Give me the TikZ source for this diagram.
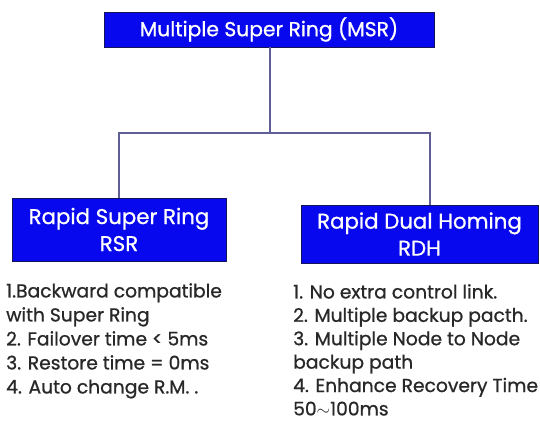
\documentclass[tikz,border=0pt]{standalone}
\usepackage{fontspec}
\setmainfont{Poppins}
\newfontfamily\medfont{Poppins}[FakeBold=0.8]
\definecolor{boxblue}{RGB}{8,8,238}
\definecolor{boxedge}{RGB}{20,20,90}
\definecolor{linecol}{RGB}{95,95,150}
\definecolor{bodytext}{RGB}{40,40,40}
\tikzset{
  bluebox/.style={draw=boxedge, line width=0.8pt, fill=boxblue, text=white, align=center, inner sep=0pt},
  bodyblock/.style={anchor=north west, inner sep=0pt, align=left, text=bodytext, font=\medfont\fontsize{18.7}{23.4}\selectfont},
  conn/.style={draw=linecol, line width=1.2pt}
}
\begin{document}
\begin{tikzpicture}[x=1pt,y=1pt]
\useasboundingbox (0,0) rectangle (540,-420);
\fill[white] (0,0) rectangle (540,-420);
\node[bluebox, minimum width=330, minimum height=35, font=\medfont\fontsize{20.3}{24}\selectfont] (msr) at (269,-29.5) {Multiple Super Ring (MSR)};
\node[bluebox, minimum width=214, minimum height=63, font=\medfont\fontsize{21.3}{27}\selectfont] (rsr) at (119,-229.5) {Rapid Super Ring\\RSR};
\node[bluebox, minimum width=237, minimum height=58, font=\medfont\fontsize{21.3}{27}\selectfont] (rdh) at (419.5,-234) {Rapid Dual Homing\\RDH};
\coordinate (j) at (270,-133);
\coordinate (rt) at (430,-205);
\draw[conn] (msr.south -| j) -- (j);
\draw[conn] (rsr.north) |- (j) -| (rt);
\node[bodyblock, font=\medfont\fontsize{18.7}{24}\selectfont] (rsrtext) at (6,-283) {1.Backward compatible\\with Super Ring\\2. Failover time < 5ms\\3. Restore time = 0ms\\4. Auto change R.M. .};
\node[bodyblock] (rdhtext) at (293,-284) {1. No extra control link.\\2. Multiple backup pacth.\\3. Multiple Node to Node\\backup path\\4. Enhance Recovery Time\\50$\sim$100ms};
\end{tikzpicture}
\end{document}
